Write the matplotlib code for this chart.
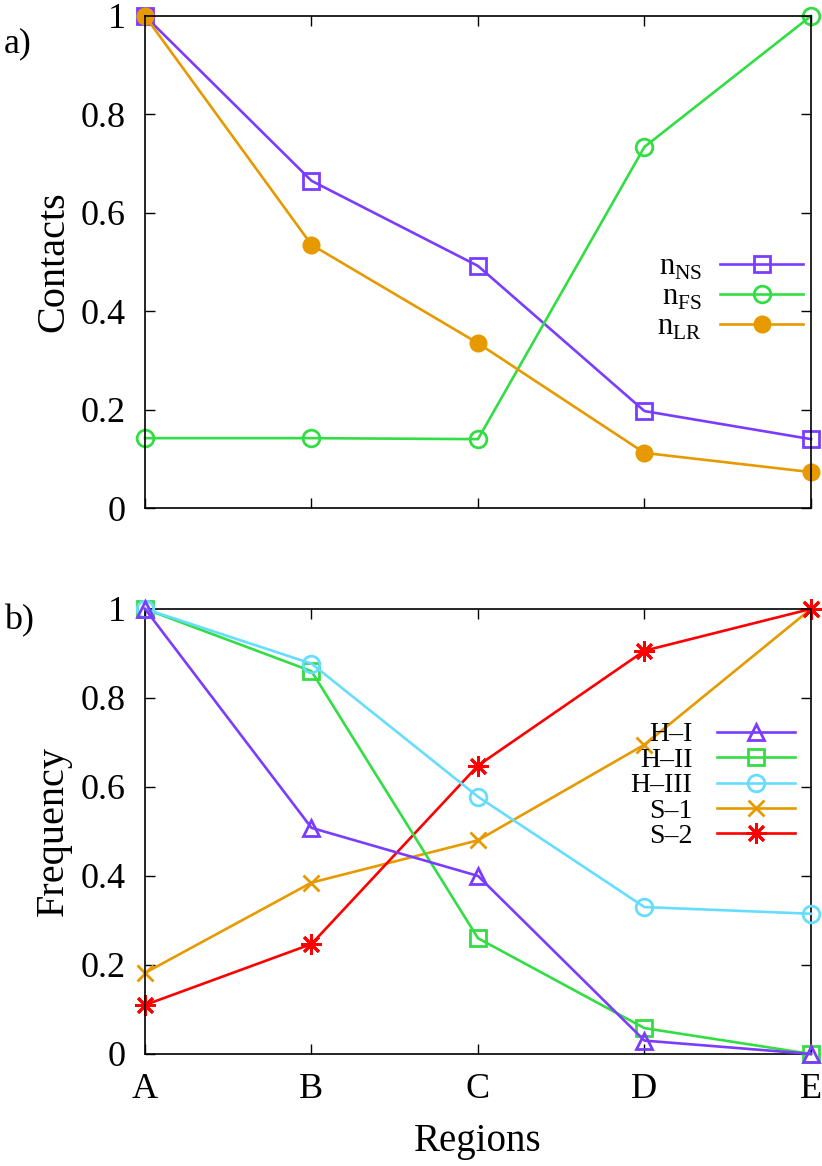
import matplotlib
matplotlib.use('Agg')
import matplotlib.pyplot as plt

plt.rcParams['font.family'] = ['Liberation Serif', 'DejaVu Serif']
plt.rcParams['mathtext.fontset'] = 'custom'
plt.rcParams['mathtext.rm'] = 'Liberation Serif'

regions = ['A', 'B', 'C', 'D', 'E']

# panel a) contacts
n_ns = [1.0, 0.665, 0.492, 0.197, 0.140]
n_fs = [0.142, 0.142, 0.140, 0.734, 1.0]
n_lr = [1.0, 0.535, 0.335, 0.112, 0.073]

# panel b) frequency
h1 = [1.0, 0.508, 0.400, 0.030, 0.0]
h2 = [1.0, 0.860, 0.260, 0.058, 0.0]
h3 = [1.0, 0.877, 0.578, 0.330, 0.315]
s1 = [0.182, 0.385, 0.480, 0.695, 1.0]
s2 = [0.110, 0.247, 0.648, 0.906, 1.0]

purple = '#7a3cff'
green = '#33dd44'
cyan = '#66ddff'
orange = '#e69a00'
red = '#ff0000'

fig = plt.figure(figsize=(8.22, 11.66), dpi=100)
ax1 = fig.add_axes([0.1764, 0.5643, 0.8102, 0.4220])
ax2 = fig.add_axes([0.1764, 0.0961, 0.8102, 0.3817])

x = list(range(len(regions)))
lw = 1.9
ms = 12
mew = 2.0

ax1.plot(x, n_ns, color=purple, lw=lw, marker='s', ms=ms, mfc='none', mew=mew, label=r'n$_\mathrm{NS}$')
ax1.plot(x, n_fs, color=green, lw=lw, marker='o', ms=ms, mfc='none', mew=mew, label=r'n$_\mathrm{FS}$')
ax1.plot(x, n_lr, color=orange, lw=lw, marker='o', ms=11, mew=mew, label=r'n$_\mathrm{LR}$')

ax2.plot(x, h1, color=purple, lw=lw, marker='^', ms=ms, mfc='none', mew=mew, label='H–I', zorder=5)
ax2.plot(x, h2, color=green, lw=lw, marker='s', ms=ms, mfc='none', mew=mew, label='H–II', zorder=3)
ax2.plot(x, h3, color=cyan, lw=lw, marker='o', ms=ms, mfc='none', mew=mew, label='H–III', zorder=4)
ax2.plot(x, s1, color=orange, lw=lw, marker='x', ms=ms, mew=mew, label='S–1')
ax2.plot(x, s2, color=red, lw=lw, marker=(8, 2, 0), ms=15, mew=mew, label='S–2')

for ax in (ax1, ax2):
    ax.set_xlim(0, len(regions) - 1)
    ax.set_ylim(0, 1)
    ax.set_xticks(x)
    ax.set_yticks([0, 0.2, 0.4, 0.6, 0.8, 1.0])
    ax.set_yticklabels(['0', '0.2', '0.4', '0.6', '0.8', '1'])
    ax.tick_params(direction='in', top=True, right=True, length=7, width=1, labelsize=26)
    ax.tick_params(axis='y', pad=14)
    ax.tick_params(axis='x', pad=14)
    for sp in ax.spines.values():
        sp.set_linewidth(1.2)
    for ln in ax.lines:
        ln.set_clip_on(False)

ax1.set_xticklabels([])
ax2.set_xticklabels(regions)

ax1.set_ylabel('Contacts', fontsize=29, labelpad=6)
ax2.set_ylabel('Frequency', fontsize=29, labelpad=6)
ax2.set_xlabel('Regions', fontsize=28, labelpad=12)

fig.text(0.005, 0.962, 'a)', fontsize=26, va='center')
fig.text(0.005, 0.468, 'b)', fontsize=26, va='center')

ax1.legend(loc='upper right', bbox_to_anchor=(0.988, 0.518), frameon=False, markerfirst=False,
           fontsize=22, handlelength=2.7, handletextpad=0.6, labelspacing=0.02,
           borderpad=0, borderaxespad=0)
ax2.legend(loc='upper right', bbox_to_anchor=(0.976, 0.746), frameon=False, markerfirst=False,
           fontsize=20, handlelength=2.8, handletextpad=0.9, labelspacing=0.0,
           borderpad=0, borderaxespad=0)

fig.savefig('out.png', dpi=100)
